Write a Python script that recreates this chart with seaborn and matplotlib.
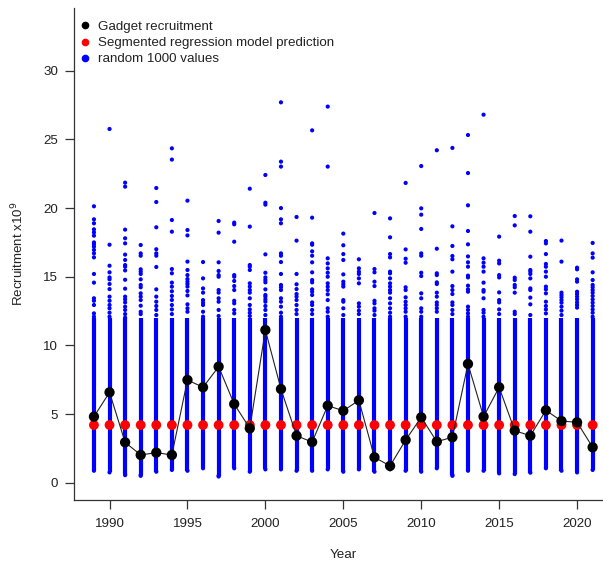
import numpy as np
import pandas as pd
import matplotlib
matplotlib.use("Agg")
import matplotlib.pyplot as plt
from matplotlib.lines import Line2D
import seaborn as sns

# ---------------- data ----------------
years = list(range(1989, 2022))

gadget = [4.81, 6.58, 2.94, 2.02, 2.19, 2.02, 7.48, 6.95, 8.45, 5.73, 3.96,
          11.12, 6.82, 3.42, 2.96, 5.61, 5.24, 6.00, 1.85, 1.22, 3.11, 4.76,
          2.99, 3.31, 8.65, 4.81, 6.95, 3.79, 3.42, 5.27, 4.49, 4.40, 2.58]

segreg = [4.2] * len(years)

# lowest simulated value in each year (bottom of the dense blue column)
sim_low = [0.87, 0.75, 0.61, 0.56, 0.80, 0.93, 0.87, 1.05, 0.51, 1.05, 0.80,
           0.97, 0.97, 0.87, 0.87, 0.97, 0.80, 0.97, 0.80, 0.97, 0.87, 0.80,
           1.05, 0.56, 0.87, 0.87, 0.68, 0.63, 0.73, 1.05, 0.87, 0.75, 0.93]

# top of the dense (overlapping) part of each column
sim_dense_top = [12.0] * len(years)

# individually visible simulated values above the dense part
sim_upper = [
    [20.13, 19.18, 18.89, 18.45, 18.23, 17.99, 17.50, 17.36, 17.19, 16.95, 16.70, 16.41, 15.20, 14.57, 13.43, 13.25, 12.94, 12.33, 12.09],
    [25.76, 17.33, 15.80, 15.32, 14.95, 14.81, 14.47, 14.10, 13.55, 13.25, 12.94, 12.70, 12.38, 12.09],
    [21.85, 21.56, 18.43, 17.80, 17.43, 16.61, 16.22, 15.85, 15.73, 15.46, 14.78, 14.13, 13.55, 13.35, 13.13, 12.82, 12.58, 12.28, 12.02],
    [17.31, 16.70, 16.53, 15.54, 15.37, 15.20, 14.81, 14.40, 14.23, 13.79, 13.55, 13.30, 12.89, 12.45, 12.28],
    [21.46, 20.44, 18.60, 17.00, 16.70, 16.53, 15.71, 14.08, 13.55, 13.18, 12.87, 12.58, 12.21],
    [24.35, 23.53, 19.13, 18.28, 15.56, 15.25, 14.57, 14.28, 13.94, 13.60, 13.30, 12.94, 12.62, 12.28],
    [20.54, 18.40, 18.01, 16.10, 15.49, 15.12, 14.83, 14.64, 14.47, 14.28, 13.96, 13.64, 12.99, 12.70, 12.45],
    [16.07, 14.88, 14.15, 13.84, 13.30, 13.11, 12.94, 12.45, 12.09],
    [19.06, 18.21, 16.05, 15.42, 15.12, 15.00, 14.03, 13.84, 13.43, 13.18, 12.58, 12.14],
    [18.94, 18.82, 17.55, 15.12, 15.00, 14.69, 14.32, 14.03, 13.25, 13.06, 12.58, 12.33],
    [21.41, 18.65, 15.85, 15.73, 15.49, 14.52, 14.28, 14.03, 13.84, 13.43, 12.94, 12.62, 12.38, 12.14],
    [22.41, 20.39, 20.25, 16.63, 15.29, 14.95, 14.76, 14.59, 14.08, 13.67, 13.55, 13.35, 13.18, 12.87, 12.58, 12.21],
    [27.70, 23.38, 23.02, 20.00, 19.18, 18.89, 16.70, 16.53, 16.07, 15.20, 14.40, 14.23, 14.03, 13.43, 13.18, 12.82, 12.38, 12.09],
    [19.35, 17.63, 15.20, 14.45, 14.10, 13.74, 13.55, 13.30, 12.94, 12.58, 12.28],
    [25.66, 19.30, 17.43, 17.33, 16.85, 16.53, 16.05, 15.32, 14.76, 14.59, 14.08, 13.91, 13.67, 13.13, 12.94, 12.58, 12.28],
    [27.39, 23.02, 16.34, 15.97, 15.61, 15.29, 15.00, 14.52, 14.28, 14.03, 13.72, 13.30, 12.70, 12.45, 12.09],
    [18.14, 17.29, 16.65, 16.22, 15.17, 14.64, 14.45, 14.28, 13.30, 13.18, 12.70, 12.21],
    [16.27, 15.61, 15.37, 15.20, 14.88, 14.52, 13.06, 12.82, 12.53, 12.28],
    [19.64, 15.56, 15.32, 14.64, 14.32, 13.25, 13.06, 12.70, 12.53, 12.21],
    [19.25, 17.87, 16.65, 16.41, 15.37, 15.25, 14.88, 14.52, 14.28, 14.03, 13.84, 13.43, 13.06, 12.70, 12.38, 12.09],
    [21.83, 16.99, 16.31, 16.02, 14.23, 14.03, 13.50, 13.18, 12.94, 12.70, 12.45, 12.09],
    [23.06, 19.98, 19.52, 18.48, 16.70, 16.53, 15.29, 15.05, 13.79, 13.43, 12.70, 12.45, 12.09],
    [24.21, 17.04, 15.25, 15.12, 14.59, 14.47, 13.84, 13.55, 13.13, 12.94, 12.70, 12.45],
    [24.38, 18.67, 17.24, 16.51, 16.27, 15.37, 14.32, 14.03, 13.74, 13.13, 12.94, 12.58, 12.28],
    [25.32, 22.55, 20.20, 18.33, 17.36, 16.48, 16.05, 15.73, 15.08, 14.95, 14.35, 14.08, 13.91, 12.82, 12.58, 12.33, 12.09],
    [26.80, 16.34, 16.02, 15.73, 15.37, 14.57, 14.03, 13.91, 13.43, 12.58, 12.38, 12.09],
    [17.92, 16.17, 15.97, 15.12, 14.95, 13.86, 13.30, 13.13, 12.62, 12.28],
    [19.42, 18.74, 14.93, 14.76, 14.40, 14.23, 13.84, 12.45, 12.28],
    [19.40, 18.28, 16.46, 15.49, 15.37, 15.20, 14.88, 14.15, 14.03, 13.48, 12.99, 12.21],
    [17.60, 17.43, 16.65, 15.93, 15.73, 15.37, 15.00, 14.28, 14.08, 13.79, 13.18, 12.87, 12.62, 12.33],
    [17.63, 16.10, 13.84, 13.67, 13.50, 13.30, 13.11, 12.82, 12.53, 12.21],
    [15.66, 15.54, 14.81, 14.64, 13.91, 13.74, 13.55, 13.35, 13.13, 12.94, 12.75],
    [17.46, 16.70, 16.39, 15.32, 14.76, 14.40, 14.23, 14.03, 13.84, 13.60, 13.35, 13.11, 12.87, 12.62, 12.38, 12.09],
]

# extra isolated low values visible below the dense columns
low_extra_years = [1991, 1992, 1997, 2012]
low_extra_vals = [0.55, 0.50, 0.45, 0.50]

labels = ["Gadget recruitment", "Segmented regression model prediction", "random 1000 values"]
x_ticks = [1990, 1995, 2000, 2005, 2010, 2015, 2020]
y_ticks = [0, 5, 10, 15, 20, 25, 30]

# ---------------- frames ----------------
main_df = pd.DataFrame({"year": years, "gadget": gadget, "segreg": segreg,
                        "low": sim_low, "top": sim_dense_top})
up_rows = [(y, v) for y, vals in zip(years, sim_upper) for v in vals]
up_rows += list(zip(low_extra_years, low_extra_vals))
up_df = pd.DataFrame(up_rows, columns=["year", "value"])

# ---------------- style ----------------
sns.set_style("ticks")
plt.rcParams["font.family"] = ["Liberation Sans", "DejaVu Sans"]
FS = 9.6
plt.rcParams["font.size"] = FS

fig = plt.figure(figsize=(6.03, 5.65), dpi=100)
# axes run past the right edge of the figure (the reference is cropped there)
ax = fig.add_axes([74 / 603, 65 / 565, 538.6 / 603, 492 / 565])

blue = "#0000ff"
ax.vlines(main_df["year"], main_df["low"], main_df["top"], colors=blue,
          linewidth=3.0, zorder=1)
sns.scatterplot(data=main_df, x="year", y="low", color=blue, s=9,
                edgecolor="none", ax=ax, zorder=2)
sns.scatterplot(data=up_df, x="year", y="value", color=blue, s=9,
                edgecolor="none", ax=ax, zorder=2)
sns.scatterplot(data=main_df, x="year", y="segreg", color="#ff0000", s=50,
                edgecolor="none", ax=ax, zorder=3)
sns.lineplot(data=main_df, x="year", y="gadget", color="#222222", linewidth=0.8,
             ax=ax, zorder=4)
sns.scatterplot(data=main_df, x="year", y="gadget", color="black", s=55,
                edgecolor="none", ax=ax, zorder=5)

ax.set_xlim(1987.72, 2022.28)
ax.set_ylim(-1.26, 34.57)
ax.set_xticks(x_ticks)
ax.set_yticks(y_ticks)
ax.set_xticklabels([str(t) for t in x_ticks])
ax.set_yticklabels([str(t) for t in y_ticks])

for s in ["top", "right"]:
    ax.spines[s].set_visible(False)
for s in ["left", "bottom"]:
    ax.spines[s].set_color("#333333")
    ax.spines[s].set_linewidth(0.9)
ax.tick_params(axis="both", direction="out", length=6.3, width=0.9,
               color="#333333", labelsize=FS, labelcolor="#222222")
ax.tick_params(axis="x", pad=7)
ax.tick_params(axis="y", pad=5)

ax.set_xlabel("Year", fontsize=FS, color="#222222", labelpad=13)
ax.set_ylabel("Recruitment x10$^9$", fontsize=FS, color="#222222", labelpad=12)

handles = [Line2D([], [], marker="o", linestyle="none", color=c, markersize=4.5)
           for c in ["black", "#ff0000", blue]]
leg = ax.legend(handles, labels, loc="upper left", bbox_to_anchor=(-0.0075, 0.993),
                frameon=False, fontsize=FS, handlelength=0.8, handletextpad=0.6,
                labelspacing=0.28, borderaxespad=0.3)
for t in leg.get_texts():
    t.set_color("#222222")

fig.savefig("out.png", dpi=100)
